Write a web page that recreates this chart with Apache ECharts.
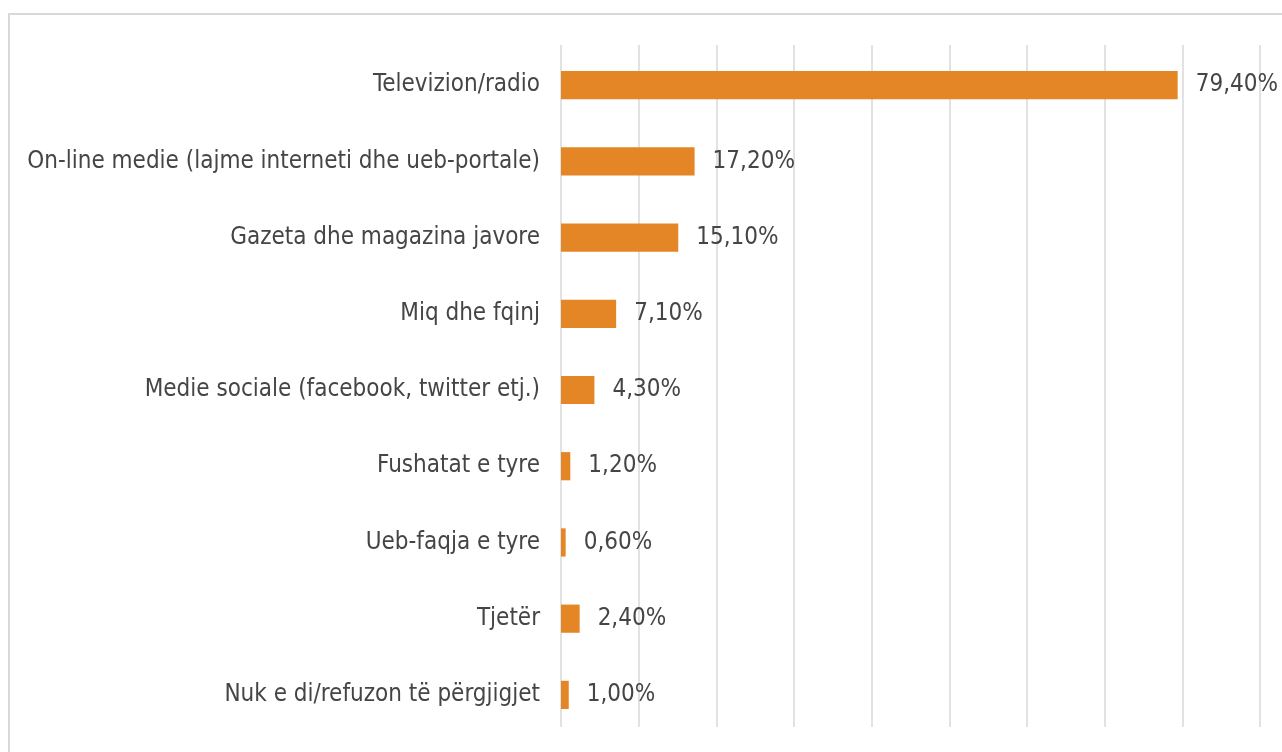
<!DOCTYPE html>
<html>
<head>
<meta charset="utf-8">
<script src="https://cdn.jsdelivr.net/npm/echarts@6/dist/echarts.min.js"></script>
<style>
  html, body { margin: 0; padding: 0; background: #fff; }
  #chart { width: 1282px; height: 752px; }
</style>
</head>
<body>
<div id="chart"></div>
<script>
// burimet e informacionit
const categories = [
  'Televizion/radio',
  'On-line medie (lajme interneti dhe ueb-portale)',
  'Gazeta dhe magazina javore',
  'Miq dhe fqinj',
  'Medie sociale (facebook, twitter etj.)',
  'Fushatat e tyre',
  'Ueb-faqja e tyre',
  'Tjetër',
  'Nuk e di/refuzon të përgjigjet'
]
const values = [79.4, 17.2, 15.1, 7.1, 4.3, 1.2, 0.6, 2.4, 1.0]
const axisMax = 90
const axisStep = 10

const chart = echarts.init(document.getElementById('chart'))
const font = '"Liberation Sans Narrow", "DejaVu Sans Condensed", sans-serif'

chart.setOption({
  animation: false,
  // kuadrati rreth grafikut
  graphic: [{
    type: 'rect',
    shape: { x: 9, y: 14, width: 1400, height: 900 },
    style: { fill: 'none', stroke: '#d9d9d9', lineWidth: 2 }
  }],
  grid: [
    { left: 561, right: 22, top: 45, bottom: 25, containLabel: false, outerBoundsMode: 'none' }, // vijat vertikale
    { left: 561, right: 22, top: 47, bottom: 19, containLabel: false, outerBoundsMode: 'none' } // shiritat
  ],
  xAxis: [
    {
      gridIndex: 0,
      type: 'value',
      min: 0,
      max: axisMax,
      interval: axisStep,
      axisLabel: { show: false },
      axisLine: { show: false },
      axisTick: { show: false },
      splitLine: { lineStyle: { color: '#d9d9d9', width: 1.5 } }
    },
    {
      gridIndex: 1,
      type: 'value',
      min: 0,
      max: axisMax,
      interval: axisStep,
      axisLabel: { show: false },
      axisLine: { show: false },
      axisTick: { show: false },
      splitLine: { show: false }
    }
  ],
  yAxis: [
    {
      gridIndex: 0,
      type: 'category',
      data: [''],
      show: false
    },
    {
      gridIndex: 1,
      type: 'category',
      inverse: true,
      data: categories,
      axisLine: { show: false },
      axisTick: { show: false },
      axisLabel: {
        margin: 21,
        color: '#454545',
        fontSize: 24,
        fontFamily: font
      }
    }
  ],
  series: [{
    type: 'bar',
    xAxisIndex: 1,
    yAxisIndex: 1,
    data: values,
    barCategoryGap: '63%',
    itemStyle: { color: '#e58626' },
    label: {
      show: true,
      position: 'right',
      distance: 18,
      color: '#454545',
      fontSize: 24,
      fontFamily: font,
      formatter: p => p.value.toFixed(2).replace('.', ',') + '%'
    }
  }]
})
</script>
</body>
</html>
